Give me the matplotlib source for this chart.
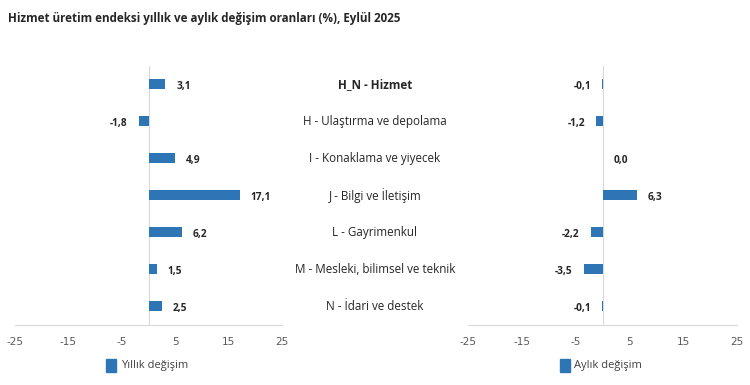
import matplotlib.pyplot as plt
import numpy as np

plt.rcParams['font.family'] = ['Open Sans', 'DejaVu Sans']

categories = ["H_N - Hizmet", "H - Ulaştırma ve depolama", "I - Konaklama ve yiyecek",
              "J - Bilgi ve İletişim", "L - Gayrimenkul", "M - Mesleki, bilimsel ve teknik",
              "N - İdari ve destek"]
yillik = [3.1, -1.8, 4.9, 17.1, 6.2, 1.5, 2.5]
aylik = [-0.1, -1.2, 0.0, 6.3, -2.2, -3.5, -0.1]
ticks = [-25, -15, -5, 5, 15, 25]

bar_color = "#2E75B6"
line_color = "#d9d9d9"

fig = plt.figure(figsize=(7.5, 3.85), dpi=100)
fig.text(0.011, 0.953, "Hizmet üretim endeksi yıllık ve aylık değişim oranları (%), Eylül 2025",
         fontsize=8.4, fontweight="bold", color="#262626", va="center")

ax1 = fig.add_axes([0.02, 0.156, 0.356, 0.673])
ax2 = fig.add_axes([0.624, 0.156, 0.359, 0.673])

y = np.arange(len(categories))

def draw(ax, vals, name, lx):
    ax.barh(y, vals, height=0.27, color=bar_color)
    ax.set_xlim(-25, 25)
    ax.set_ylim(len(categories) - 0.5, -0.5)
    ax.set_xticks(ticks)
    ax.set_xticklabels([str(t) for t in ticks], fontsize=7.5, color="#595959",
                       family=["Liberation Sans Narrow", "DejaVu Sans"])
    ax.tick_params(axis="x", length=0, pad=9)
    ax.set_yticks([])
    for s in ["top", "right", "left"]:
        ax.spines[s].set_visible(False)
    ax.spines["bottom"].set_color(line_color)
    ax.axvline(0, color=line_color, lw=0.8, zorder=0)
    for i, v in enumerate(vals):
        txt = "{:.1f}".format(v).replace(".", ",")
        if v < 0:
            ax.annotate(txt, (v, i), xytext=(-8, -1.5), textcoords="offset points",
                        ha="right", va="center", fontsize=7.3, fontweight="bold", color="#262626")
        else:
            ax.annotate(txt, (v, i), xytext=(8, -1.5), textcoords="offset points",
                        ha="left", va="center", fontsize=7.3, fontweight="bold", color="#262626")
    # legend
    fig.patches.append(plt.Rectangle((lx, 0.035), 0.014, 0.032, transform=fig.transFigure,
                                     color=bar_color))
    fig.text(lx + 0.02, 0.051, name, fontsize=8, color="#404040", va="center")

draw(ax1, yillik, "Yıllık değişim", 0.141)
draw(ax2, aylik, "Aylık değişim", 0.746)

# category labels in the middle
for i, c in enumerate(categories):
    yy = ax1.transData.transform((0, i))[1]
    yf = fig.transFigure.inverted().transform((0, yy))[1]
    fig.text(0.5, yf, c, ha="center", va="center", fontsize=8.4, color="#262626",
             fontweight="bold" if i == 0 else "normal")

fig.savefig("out.png", dpi=100)
